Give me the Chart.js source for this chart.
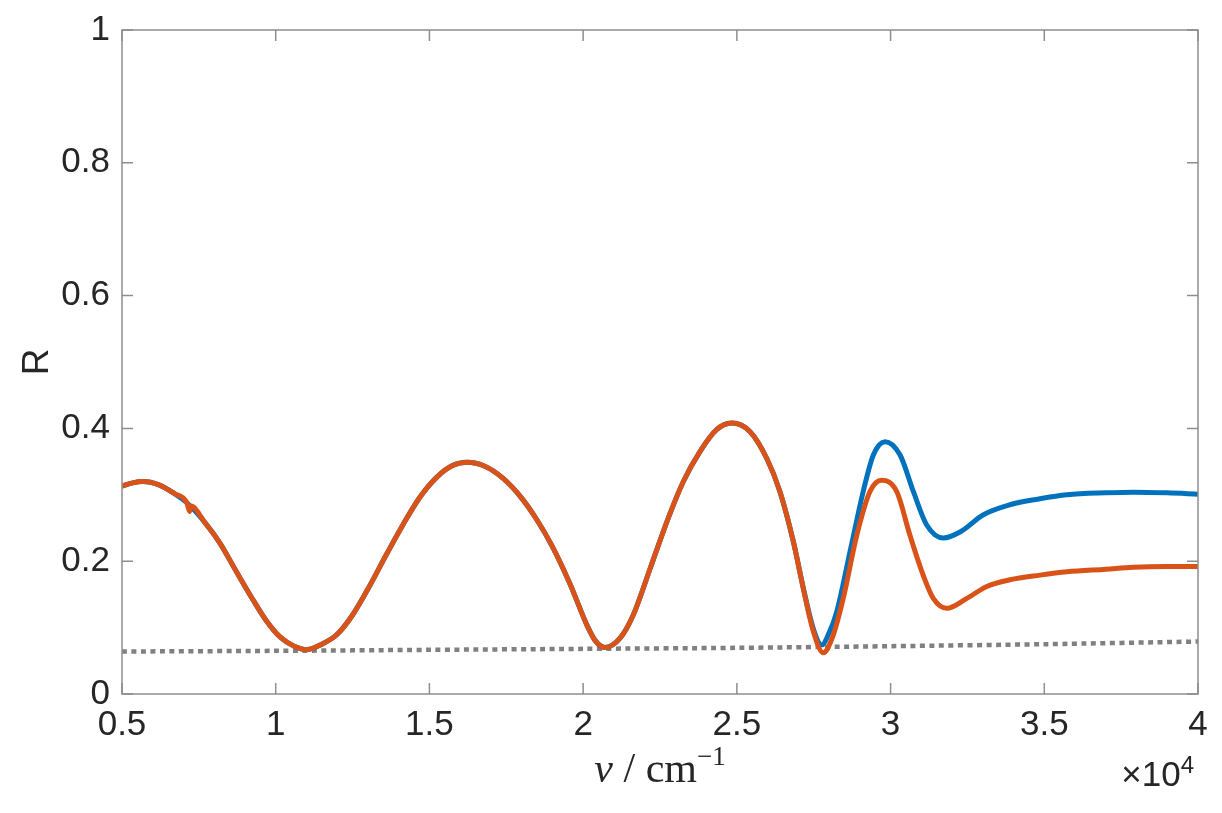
<!DOCTYPE html>
<html><head><meta charset="utf-8">
<script src="https://cdn.jsdelivr.net/npm/chart.js@4"></script>
<style>html,body{margin:0;padding:0;background:#fff}</style>
</head><body>
<canvas id="c" width="1222" height="813" style="width:1222px;height:813px;display:block"></canvas>
<script>
// wavenumber in units of 1e4 cm^-1
const orangeX = [0.50,0.535,0.568,0.62,0.67,0.711,0.72,0.724,0.77,0.819,0.87,0.926,0.97,1.014,1.06,1.102,1.15,1.20,1.25,1.307,1.36,1.414,1.47,1.525,1.575,1.622,1.68,1.739,1.80,1.85,1.90,1.957,2.013,2.04,2.071,2.12,2.163,2.218,2.272,2.326,2.38,2.434,2.483,2.543,2.597,2.64,2.684,2.716,2.749,2.781,2.81,2.846,2.89,2.933,2.971,3.02,3.063,3.106,3.139,3.183,3.248,3.313,3.388,3.486,3.574,3.70,3.789,3.90,4.00];
const orangeR = [0.313,0.318,0.320,0.315,0.302,0.288,0.275,0.283,0.258,0.227,0.186,0.142,0.110,0.086,0.072,0.067,0.075,0.090,0.119,0.164,0.210,0.255,0.297,0.327,0.344,0.349,0.343,0.325,0.295,0.262,0.222,0.166,0.103,0.080,0.070,0.084,0.119,0.189,0.259,0.320,0.365,0.398,0.408,0.395,0.355,0.305,0.229,0.159,0.094,0.062,0.084,0.144,0.239,0.305,0.322,0.305,0.239,0.179,0.144,0.129,0.144,0.162,0.172,0.179,0.184,0.188,0.191,0.192,0.192];
const blueX = [0.50,0.535,0.568,0.62,0.67,0.711,0.77,0.819,0.87,0.926,0.97,1.014,1.06,1.102,1.15,1.20,1.25,1.307,1.36,1.414,1.47,1.525,1.575,1.622,1.68,1.739,1.80,1.85,1.90,1.957,2.013,2.04,2.071,2.12,2.163,2.218,2.272,2.326,2.38,2.434,2.483,2.543,2.597,2.64,2.684,2.716,2.749,2.776,2.80,2.825,2.868,2.911,2.944,2.982,3.031,3.074,3.117,3.172,3.226,3.302,3.388,3.486,3.574,3.70,3.789,3.90,4.00];
const blueR = [0.313,0.318,0.320,0.315,0.302,0.288,0.258,0.227,0.186,0.142,0.110,0.086,0.072,0.067,0.075,0.090,0.119,0.164,0.210,0.255,0.297,0.327,0.344,0.349,0.343,0.325,0.295,0.262,0.222,0.166,0.103,0.080,0.070,0.084,0.119,0.189,0.259,0.320,0.365,0.398,0.408,0.395,0.355,0.305,0.229,0.160,0.098,0.074,0.092,0.124,0.214,0.305,0.360,0.380,0.360,0.305,0.255,0.235,0.244,0.270,0.285,0.294,0.300,0.303,0.304,0.303,0.301];
const refX = [0.5,1.0,1.5,2.0,2.5,3.0,3.5,4.0];
const refR = [0.064,0.065,0.0665,0.068,0.0695,0.072,0.075,0.079];
const xTicks = [0.5,1,1.5,2,2.5,3,3.5,4];
const yTicks = [0,0.2,0.4,0.6,0.8,1];

const pts = (xs, ys) => xs.map((x, i) => ({x: x * 1e4, y: ys[i]}));
const AX = '#8f8f8f', TXT = '#262626';
const SANS = '"Liberation Sans", Arial, sans-serif';

const framePlugin = {
  id: 'frame',
  afterDatasetsDraw(chart) {
    const {ctx, chartArea: a, scales: {x, y}} = chart;
    ctx.save();
    ctx.strokeStyle = AX; ctx.lineWidth = 1.5;
    ctx.strokeRect(a.left, a.top, a.right - a.left, a.bottom - a.top);
    ctx.beginPath();
    const L = 11;
    xTicks.forEach(v => { const p = x.getPixelForValue(v * 1e4);
      ctx.moveTo(p, a.bottom); ctx.lineTo(p, a.bottom - L);
      ctx.moveTo(p, a.top); ctx.lineTo(p, a.top + L); });
    yTicks.forEach(v => { const p = y.getPixelForValue(v);
      ctx.moveTo(a.left, p); ctx.lineTo(a.left + L, p);
      ctx.moveTo(a.right, p); ctx.lineTo(a.right - L, p); });
    ctx.stroke();
    ctx.fillStyle = TXT;
    // y title
    ctx.save();
    ctx.translate(48, (a.top + a.bottom) / 2);
    ctx.rotate(-Math.PI / 2);
    ctx.font = '37px ' + SANS;
    ctx.textAlign = 'center'; ctx.textBaseline = 'alphabetic';
    ctx.fillText('R', 0, 0);
    ctx.restore();
    // x title: ν / cm^-1
    const fI = 'italic 42px "Liberation Serif", serif';
    const fN = '42px "Liberation Serif", serif';
    const fS = '27px "Liberation Serif", serif';
    const parts = [[ 'ν', fI, 0 ], [ ' / cm', fN, 0 ], [ '−1', fS, -17 ]];
    let w = 0;
    parts.forEach(p => { ctx.font = p[1]; w += ctx.measureText(p[0]).width; });
    let cx = (a.left + a.right) / 2 - w / 2;
    ctx.textAlign = 'left'; ctx.textBaseline = 'alphabetic';
    parts.forEach(p => { ctx.font = p[1]; ctx.fillText(p[0], cx, 782 + p[2]); cx += ctx.measureText(p[0]).width; });
    // exponent label ×10^4
    ctx.font = '24px ' + SANS;
    const w4 = ctx.measureText('4').width;
    ctx.textAlign = 'right';
    ctx.fillText('4', a.right - 4, 773);
    ctx.font = '35px ' + SANS;
    ctx.fillText('×10', a.right - 4 - w4, 786);
    ctx.restore();
  }
};

new Chart(document.getElementById('c'), {
  type: 'line',
  data: { datasets: [
    { data: pts(orangeX, orangeR), borderColor: '#D95319', borderWidth: 5, pointRadius: 0, cubicInterpolationMode: 'monotone', fill: false },
    { data: pts(blueX, blueR), borderColor: '#0072BD', borderWidth: 5, pointRadius: 0, cubicInterpolationMode: 'monotone', fill: false },
    { data: pts(refX, refR), borderColor: '#808080', borderWidth: 4.5, borderDash: [5, 4.5], borderCapStyle: 'butt', pointRadius: 0, tension: 0.3, fill: false }
  ]},
  options: {
    responsive: false, animation: false, devicePixelRatio: 1,
    layout: { padding: { left: 0, top: 30, right: 24, bottom: 0 } },
    scales: {
      x: { type: 'linear', min: 5000, max: 40000,
        afterBuildTicks: s => { s.ticks = xTicks.map(v => ({ value: v * 1e4 })); },
        afterFit: s => { s.height = 119; },
        ticks: { callback: v => String(v / 1e4), color: TXT, padding: 10, maxRotation: 0, autoSkip: false,
          font: { family: SANS, size: 35 } },
        grid: { display: false, drawTicks: false }, border: { display: false } },
      y: { type: 'linear', min: 0, max: 1,
        afterBuildTicks: s => { s.ticks = yTicks.map(v => ({ value: v })); },
        afterFit: s => { s.width = 122; },
        ticks: { callback: v => String(Math.round(v * 10) / 10), color: TXT, padding: 12,
          font: { family: SANS, size: 35, lineHeight: 1.0 } },
        grid: { display: false, drawTicks: false }, border: { display: false } }
    },
    plugins: { legend: { display: false }, tooltip: { enabled: false } }
  },
  plugins: [framePlugin]
});
</script>
</body></html>
